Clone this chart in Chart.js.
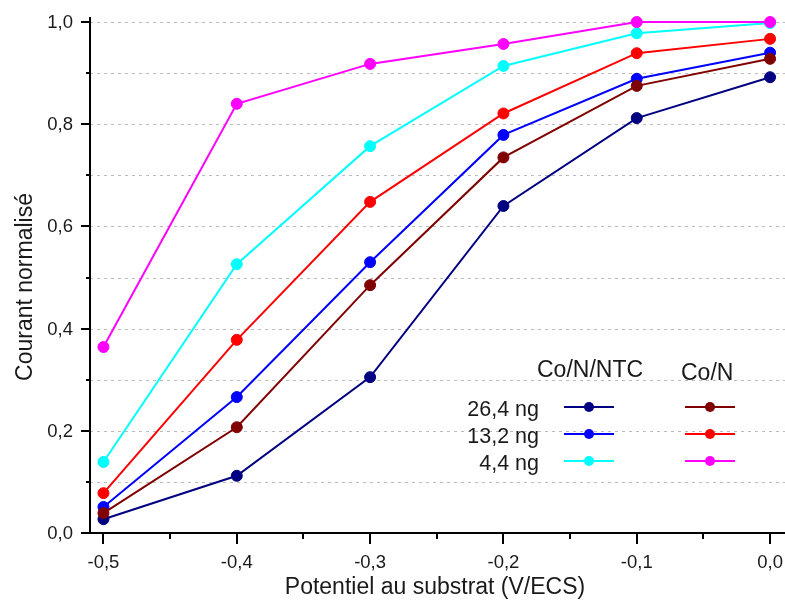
<!DOCTYPE html>
<html>
<head>
<meta charset="utf-8">
<script src="https://cdn.jsdelivr.net/npm/chart.js@4.4.1/dist/chart.umd.min.js"></script>
<style>
    html, body { margin: 0; padding: 0; background: #fff; }
</style>
</head>
<body>
<canvas id="courantChart" width="785" height="609"></canvas>
<script>
// Données
const potentiels = [-0.5, -0.4, -0.3, -0.2, -0.1, 0.0];
const masses = ['26,4 ng', '13,2 ng', '4,4 ng'];

const coNNtc264 = [0.027, 0.112, 0.305, 0.640, 0.812, 0.892];
const coNNtc132 = [0.051, 0.266, 0.530, 0.779, 0.889, 0.940];
const coNNtc44  = [0.139, 0.526, 0.757, 0.914, 0.978, 0.998];
const coN264    = [0.039, 0.207, 0.485, 0.735, 0.875, 0.928];
const coN132    = [0.078, 0.378, 0.648, 0.821, 0.939, 0.967];
const coN44     = [0.364, 0.840, 0.918, 0.957, 1.000, 1.000];

const xMajorTicks = [-0.5, -0.4, -0.3, -0.2, -0.1, 0.0];
const xMinorTicks = [-0.45, -0.35, -0.25, -0.15, -0.05];
const yMajorTicks = [0.0, 0.2, 0.4, 0.6, 0.8, 1.0];
const yMinorTicks = [0.1, 0.3, 0.5, 0.7, 0.9];

const FONT = "'Liberation Sans', Arial, sans-serif";

function fmt(v) {
    const s = v.toFixed(1).replace('.', ',');
    return s === '-0,0' ? '0,0' : s;
}

function toPoints(values) {
    return potentiels.map((x, i) => ({ x: x, y: values[i] }));
}

const series = [
    { label: 'Co/N/NTC 26,4 ng', data: coNNtc264, color: '#000080', order: 5 },
    { label: 'Co/N/NTC 13,2 ng', data: coNNtc132, color: '#0000ff', order: 4 },
    { label: 'Co/N/NTC 4,4 ng',  data: coNNtc44,  color: '#00ffff', order: 3 },
    { label: 'Co/N 26,4 ng',     data: coN264,    color: '#800000', order: 2 },
    { label: 'Co/N 13,2 ng',     data: coN132,    color: '#ff0000', order: 1 },
    { label: 'Co/N 4,4 ng',      data: coN44,     color: '#ff00ff', order: 0 }
];

// Grille pointillée + axes + graduations + titres + légende
const decorPlugin = {
    id: 'decor',
    beforeDatasetsDraw(chart) {
        const ctx = chart.ctx, area = chart.chartArea, y = chart.scales.y;
        ctx.save();
        ctx.strokeStyle = '#bcbcbc';
        ctx.lineWidth = 1;
        ctx.setLineDash([3, 4]);
        yMajorTicks.concat(yMinorTicks).forEach(v => {
            if (v === 0) return;
            const py = Math.round(y.getPixelForValue(v)) + 0.5;
            ctx.beginPath();
            ctx.moveTo(area.left, py);
            ctx.lineTo(area.right, py);
            ctx.stroke();
        });
        ctx.restore();
    },
    afterDraw(chart) {
        const ctx = chart.ctx, area = chart.chartArea;
        const x = chart.scales.x, y = chart.scales.y;
        ctx.save();
        ctx.strokeStyle = '#000';
        ctx.lineWidth = 2;
        ctx.beginPath();
        ctx.moveTo(area.left, area.top);
        ctx.lineTo(area.left, area.bottom);
        ctx.lineTo(area.right, area.bottom);
        yMajorTicks.forEach(v => {
            const py = Math.round(y.getPixelForValue(v));
            ctx.moveTo(area.left - 9, py); ctx.lineTo(area.left, py);
        });
        yMinorTicks.forEach(v => {
            const py = Math.round(y.getPixelForValue(v));
            ctx.moveTo(area.left - 4, py); ctx.lineTo(area.left, py);
        });
        xMajorTicks.forEach(v => {
            const px = Math.round(x.getPixelForValue(v));
            ctx.moveTo(px, area.bottom); ctx.lineTo(px, area.bottom + 11);
        });
        xMinorTicks.forEach(v => {
            const px = Math.round(x.getPixelForValue(v));
            ctx.moveTo(px, area.bottom); ctx.lineTo(px, area.bottom + 6);
        });
        ctx.stroke();

        // étiquettes des graduations
        ctx.fillStyle = '#1a1a1a';
        ctx.font = '18.5px ' + FONT;
        ctx.textBaseline = 'middle';
        ctx.textAlign = 'right';
        yMajorTicks.forEach(v => {
            ctx.fillText(fmt(v), area.left - 17, y.getPixelForValue(v) + 1);
        });
        ctx.textAlign = 'center';
        xMajorTicks.forEach(v => {
            ctx.fillText(fmt(v), x.getPixelForValue(v), area.bottom + 30);
        });

        // titres des axes
        ctx.font = '23px ' + FONT;
        ctx.textAlign = 'center';
        ctx.textBaseline = 'alphabetic';
        ctx.fillText('Potentiel au substrat (V/ECS)', 435, 594);
        ctx.save();
        ctx.translate(32, 287);
        ctx.rotate(-Math.PI / 2);
        ctx.fillText('Courant normalisé', 0, 0);
        ctx.restore();

        // légende
        ctx.font = '23px ' + FONT;
        ctx.textAlign = 'left';
        ctx.fillText('Co/N/NTC', 537, 377);
        ctx.fillText('Co/N', 681, 380);
        ctx.font = '21.5px ' + FONT;
        ctx.textAlign = 'right';
        const rowY = [407, 434, 461];
        const cols = [[series[0], series[1], series[2]], [series[3], series[4], series[5]]];
        const colX = [589, 710];
        masses.forEach((m, i) => {
            ctx.fillStyle = '#1a1a1a';
            ctx.fillText(m, 539, rowY[i] + 9);
            cols.forEach((col, c) => {
                const s = col[i];
                ctx.strokeStyle = s.color;
                ctx.fillStyle = s.color;
                ctx.lineWidth = 2;
                ctx.beginPath();
                ctx.moveTo(colX[c] - 25, rowY[i]);
                ctx.lineTo(colX[c] + 25, rowY[i]);
                ctx.stroke();
                ctx.beginPath();
                ctx.arc(colX[c], rowY[i], 5, 0, Math.PI * 2);
                ctx.fill();
            });
        });
        ctx.restore();
    }
};

const ctx = document.getElementById('courantChart').getContext('2d');
const courantChart = new Chart(ctx, {
    type: 'line',
    data: {
        datasets: series.map(s => ({
            label: s.label,
            data: toPoints(s.data),
            borderColor: s.color,
            backgroundColor: s.color,
            pointBackgroundColor: s.color,
            pointBorderColor: s.color,
            pointRadius: 5.5,
            pointBorderWidth: 1,
            borderWidth: 2,
            fill: false,
            tension: 0,
            order: s.order
        }))
    },
    options: {
        responsive: false,
        animation: false,
        devicePixelRatio: 1,
        layout: {
            autoPadding: false,
            padding: { left: 0, right: 0, top: 17, bottom: 0 }
        },
        scales: {
            x: {
                type: 'linear',
                min: -0.5101,
                max: 0.0112,
                afterBuildTicks: scale => { scale.ticks = xMajorTicks.map(v => ({ value: v })); },
                afterFit: scale => { scale.height = 76; },
                grid: { display: false, drawTicks: false },
                border: { display: false },
                ticks: { display: false }
            },
            y: {
                min: 0,
                max: 1.0098,
                afterBuildTicks: scale => { scale.ticks = yMajorTicks.map(v => ({ value: v })); },
                afterFit: scale => { scale.width = 90; },
                grid: { display: false, drawTicks: false },
                border: { display: false },
                ticks: { display: false }
            }
        },
        clip: false,
        plugins: {
            legend: { display: false },
            tooltip: { enabled: false }
        }
    },
    plugins: [decorPlugin]
});
</script>
</body>
</html>
